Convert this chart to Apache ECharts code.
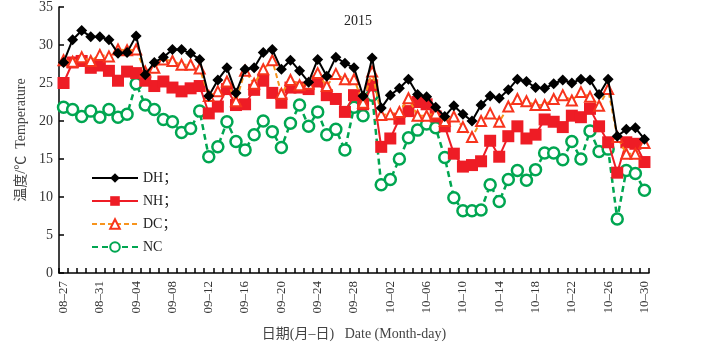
<!DOCTYPE html>
<html>
<head>
<meta charset="utf-8">
<script src="https://cdn.jsdelivr.net/npm/echarts@6/dist/echarts.min.js"></script>
<style>
  html, body { margin: 0; padding: 0; background: #fff; }
  #chart { width: 701px; height: 346px; }
</style>
</head>
<body>
<div id="chart"></div>
<script>
// 日期 08-27 ~ 10-30
const dates = [
  '08–27', '08–28', '08–29', '08–30', '08–31',
  '09–01', '09–02', '09–03', '09–04', '09–05', '09–06', '09–07', '09–08', '09–09', '09–10',
  '09–11', '09–12', '09–13', '09–14', '09–15', '09–16', '09–17', '09–18', '09–19', '09–20',
  '09–21', '09–22', '09–23', '09–24', '09–25', '09–26', '09–27', '09–28', '09–29', '09–30',
  '10–01', '10–02', '10–03', '10–04', '10–05', '10–06', '10–07', '10–08', '10–09', '10–10',
  '10–11', '10–12', '10–13', '10–14', '10–15', '10–16', '10–17', '10–18', '10–19', '10–20',
  '10–21', '10–22', '10–23', '10–24', '10–25', '10–26', '10–27', '10–28', '10–29', '10–30',
];

const dh = [
  27.7, 30.7, 31.9, 31.1, 31.1, 30.7, 28.9, 29.0, 31.2, 26.1,
  27.7, 28.4, 29.4, 29.4, 28.9, 28.1, 23.3, 25.4, 27.0, 23.7,
  26.8, 27.0, 29.0, 29.4, 26.8, 28.0, 26.6, 25.1, 28.1, 25.9,
  28.4, 27.6, 27.0, 23.3, 28.3, 21.7, 23.4, 24.3, 25.5, 23.5,
  23.2, 21.8, 20.6, 22.0, 20.9, 20.0, 22.1, 23.3, 23.0, 24.1,
  25.5, 25.2, 24.4, 24.3, 24.9, 25.4, 25.0, 25.5, 25.4, 23.5,
  25.5, 18.0, 18.9, 19.1, 17.6,
];
const nh = [
  25.0, 27.7, 27.9, 27.0, 27.3, 26.6, 25.3, 26.5, 26.3, 25.3,
  24.6, 25.2, 24.4, 23.9, 24.3, 24.6, 21.0, 21.9, 24.2, 22.1,
  22.2, 24.1, 25.3, 23.7, 22.4, 24.4, 24.4, 24.2, 25.2, 23.4,
  22.9, 21.2, 23.4, 22.2, 24.7, 16.6, 17.7, 20.3, 21.3, 22.5,
  22.2, 20.6, 19.3, 15.7, 14.0, 14.2, 14.7, 17.4, 15.3, 18.0,
  19.3, 17.7, 18.2, 20.2, 19.9, 19.2, 20.7, 20.5, 21.6, 19.3,
  17.2, 13.2, 17.2, 17.0, 14.6,
];
const dc = [
  28.0, 27.8, 28.4, 27.9, 28.7, 28.5, 29.4, 29.3, 29.4, 26.5,
  27.0, 28.1, 27.9, 27.4, 27.4, 26.9, 23.3, 23.9, 25.2, 22.6,
  26.6, 24.9, 26.8, 28.0, 23.6, 25.4, 24.7, 24.9, 26.3, 24.6,
  26.2, 25.5, 25.5, 22.4, 26.5, 20.8, 20.9, 21.2, 23.0, 20.7,
  20.7, 21.0, 20.0, 20.6, 19.2, 17.9, 20.0, 21.0, 19.9, 21.9,
  22.9, 22.6, 22.1, 22.1, 22.9, 23.4, 22.7, 23.8, 23.2, 22.0,
  24.2, 17.9, 15.7, 15.7, 17.1,
];
const nc = [
  21.8, 21.5, 20.6, 21.3, 20.5, 21.5, 20.5, 20.9, 24.9, 22.1,
  21.5, 20.2, 19.9, 18.5, 19.0, 21.3, 15.3, 16.6, 19.9, 17.3,
  16.2, 18.2, 20.0, 18.6, 16.5, 19.7, 22.1, 19.3, 21.2, 18.2,
  18.9, 16.2, 21.8, 20.7, 23.4, 11.6, 12.3, 15.0, 17.8, 18.8,
  19.6, 19.1, 15.2, 9.9, 8.2, 8.2, 8.3, 11.6, 9.4, 12.3,
  13.5, 12.2, 13.6, 15.8, 15.8, 14.9, 17.3, 15.0, 18.7, 16.0,
  16.3, 7.1, 13.5, 13.1, 10.9,
];

const serif = '"Liberation Serif", "Times New Roman", "Noto Sans CJK SC", serif';

const chart = echarts.init(document.getElementById('chart'));
chart.setOption({
  animation: false,
  backgroundColor: '#fff',
  textStyle: { fontFamily: serif },
  title: {
    text: '2015',
    left: 353,
    top: 9,
    textAlign: 'center',
    textStyle: { fontFamily: serif, fontSize: 14, fontWeight: 'normal', color: '#222' },
  },
  legend: {
    orient: 'vertical',
    left: 86,
    top: 166,
    itemWidth: 46,
    itemHeight: 12,
    itemGap: 9,
    textStyle: { fontFamily: serif, fontSize: 14, color: '#222' },
    data: ['DH；', 'NH；', 'DC；', 'NC'],
  },
  grid: {
    left: 59,
    right: 52,
    top: 7,
    bottom: 67,
    containLabel: false,
  },
  xAxis: {
    type: 'category',
    data: dates,
    boundaryGap: true,
    name: '日期(月–日)   Date (Month-day)',
    nameLocation: 'middle',
    nameGap: 54,
    nameTextStyle: { fontFamily: serif, fontSize: 14, color: '#444' },
    axisLine: { lineStyle: { color: '#000', width: 1.5 } },
    axisTick: { show: true, inside: true, length: 5, interval: 0, lineStyle: { color: '#000', width: 1.5 } },
    axisLabel: {
      interval: 3,
      rotate: 90,
      margin: 8,
      fontFamily: serif,
      fontSize: 13,
      color: '#333',
    },
    splitLine: { show: false },
  },
  yAxis: {
    type: 'value',
    min: 0,
    max: 35,
    interval: 5,
    name: '温度/℃  Temperature',
    nameLocation: 'middle',
    nameGap: 27,
    nameTextStyle: { fontFamily: serif, fontSize: 14, color: '#444' },
    axisLine: { show: true, lineStyle: { color: '#000', width: 1.5 } },
    axisTick: { show: true, inside: true, length: 5, lineStyle: { color: '#000', width: 1.5 } },
    axisLabel: { fontFamily: serif, fontSize: 14, color: '#333', margin: 6 },
    splitLine: { show: false },
  },
  series: [
    {
      name: 'DH；',
      type: 'line',
      data: dh,
      showAllSymbol: true,
      symbol: 'diamond',
      symbolSize: 11,
      itemStyle: { color: '#000' },
      lineStyle: { color: '#000', width: 2 },
      z: 5,
    },
    {
      name: 'NH；',
      type: 'line',
      data: nh,
      showAllSymbol: true,
      symbol: 'rect',
      symbolSize: 12,
      itemStyle: { color: '#ee1c25' },
      lineStyle: { color: '#ee1c25', width: 2 },
      z: 3,
    },
    {
      name: 'DC；',
      type: 'line',
      data: dc,
      showAllSymbol: true,
      symbol: 'triangle',
      symbolSize: 10,
      itemStyle: { color: '#fff', borderColor: '#f7341d', borderWidth: 2 },
      lineStyle: { color: '#f7941d', width: 2, type: [5, 3] },
      z: 4,
    },
    {
      name: 'NC',
      type: 'line',
      data: nc,
      showAllSymbol: true,
      symbol: 'circle',
      symbolSize: 11,
      itemStyle: { color: '#fff', borderColor: '#00a651', borderWidth: 2.5 },
      lineStyle: { color: '#00a651', width: 2.5, type: [6, 4] },
      z: 2,
    },
  ],
});
window.addEventListener('resize', () => { chart.resize(); });
</script>
</body>
</html>
